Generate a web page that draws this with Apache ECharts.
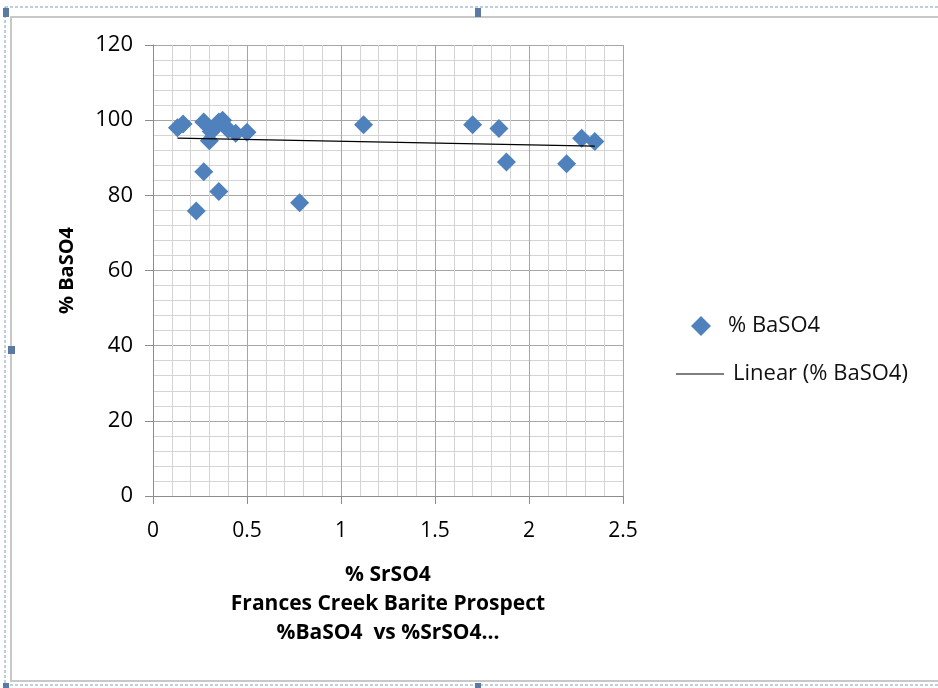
<!DOCTYPE html>
<html>
<head>
<meta charset="utf-8">
<script src="https://cdn.jsdelivr.net/npm/echarts@6/dist/echarts.min.js"></script>
<style>html,body{margin:0;padding:0;background:#fff;}#c{width:938px;height:688px;}</style>
</head>
<body>
<div id="c"></div>
<script>
// Data
const srso4 = [0.13, 0.16, 0.27, 0.30, 0.31, 0.35, 0.37, 0.40, 0.44, 0.50, 0.27, 0.35, 0.23, 0.78, 1.12, 1.70, 1.84, 1.88, 2.20, 2.28, 2.35];
const baso4 = [98.0, 99.0, 99.5, 94.5, 97.0, 99.5, 100.0, 97.5, 96.5, 96.8, 86.3, 81.0, 75.8, 78.0, 98.8, 98.8, 97.8, 88.9, 88.4, 95.2, 94.3];
// Excel linear trendline end points
const trendX = [0.13, 2.35];
const trendY = [95.2, 93.1];
const xTicks = [0, 0.5, 1, 1.5, 2, 2.5];
const yTicks = [0, 20, 40, 60, 80, 100, 120];
const seriesName = '% BaSO4';
const trendName = 'Linear (% BaSO4)';
const xTitle = '% SrSO4\nFrances Creek Barite Prospect\n%BaSO4  vs %SrSO4...';
const yTitle = '% BaSO4';

const points = srso4.map((x, i) => [x, baso4[i]]);
const trend = trendX.map((x, i) => [x, trendY[i]]);

const FONT = '"Open Sans", Lato, sans-serif';
const chart = echarts.init(document.getElementById('c'), null, {renderer: 'canvas'});
chart.setOption({
  animation: false,
  backgroundColor: '#fff',
  textStyle: {fontFamily: FONT},
  grid: {left: 153, right: 315, top: 45, bottom: 192, containLabel: false},
  legend: [
    {
      orient: 'vertical', left: 686, top: 310, itemWidth: 20, itemHeight: 20,
      textStyle: {fontFamily: FONT, fontSize: 22, color: '#111', padding: [0, 0, 0, 12]},
      data: [{name: seriesName, icon: 'diamond'}]
    },
    {
      orient: 'vertical', left: 671, top: 358, itemWidth: 48, itemHeight: 2,
      textStyle: {fontFamily: FONT, fontSize: 22, color: '#111', padding: [0, 0, 0, 4]},
      data: [{name: trendName, icon: 'rect', itemStyle: {color: '#7f7f7f'}}]
    }
  ],
  xAxis: {
    type: 'value', min: 0, max: 2.5, interval: 0.5,
    axisLine: {show: true, lineStyle: {color: '#8c8c8c', width: 1}},
    axisTick: {show: true, length: 8, lineStyle: {color: '#8c8c8c'}},
    axisLabel: {color: '#000', fontSize: 21, margin: 25, fontFamily: FONT, formatter: v => xTicks.includes(v) ? String(v) : ''},
    splitLine: {show: true, lineStyle: {color: '#a6a6a6', width: 1}},
    minorTick: {show: false, splitNumber: 5},
    minorSplitLine: {show: true, lineStyle: {color: '#d4d4d4', width: 1}},
    name: xTitle, nameLocation: 'middle', nameGap: 65,
    nameTextStyle: {color: '#000', fontWeight: 'bold', fontSize: 21, lineHeight: 29, fontFamily: FONT}
  },
  yAxis: {
    type: 'value', min: 0, max: 120, interval: 20,
    axisLine: {show: true, lineStyle: {color: '#8c8c8c', width: 1}},
    axisTick: {show: true, length: 8, lineStyle: {color: '#8c8c8c'}},
    axisLabel: {color: '#000', fontSize: 22, margin: 20, fontFamily: FONT, formatter: v => yTicks.includes(v) ? String(v) : ''},
    splitLine: {show: true, lineStyle: {color: '#a6a6a6', width: 1}},
    minorTick: {show: false, splitNumber: 5},
    minorSplitLine: {show: true, lineStyle: {color: '#d4d4d4', width: 1}},
    name: yTitle, nameLocation: 'middle', nameGap: 76, nameRotate: 90,
    nameTextStyle: {color: '#000', fontWeight: 'bold', fontSize: 20, fontFamily: FONT}
  },
  series: [
    {
      name: seriesName, type: 'scatter', data: points, symbol: 'diamond', symbolSize: 19,
      itemStyle: {color: '#4f81bd', opacity: 1}, z: 3
    },
    {
      name: trendName, type: 'line', data: trend, symbol: 'none', showSymbol: false,
      lineStyle: {color: '#000', width: 1.2}, itemStyle: {color: '#7f7f7f'}, z: 4
    }
  ],
  graphic: [
    {type: 'rect', shape: {x: 5, y: 7, width: 940, height: 678}, style: {fill: 'none', stroke: '#7f9cc0', lineWidth: 1, lineDash: [3, 2]}, silent: true, z: -10},
    {type: 'rect', shape: {x: 11, y: 17, width: 940, height: 664}, style: {fill: 'none', stroke: '#c8c8c8', lineWidth: 2}, silent: true, z: -9},
    {type: 'rect', shape: {x: 3, y: 8, width: 6, height: 9}, style: {fill: '#5a7aa3'}, silent: true},
    {type: 'rect', shape: {x: 475, y: 8, width: 6, height: 9}, style: {fill: '#5a7aa3'}, silent: true},
    {type: 'rect', shape: {x: 8, y: 346, width: 7, height: 8}, style: {fill: '#5a7aa3'}, silent: true},
    {type: 'rect', shape: {x: 475, y: 683, width: 6, height: 6}, style: {fill: '#5a7aa3'}, silent: true},
    {type: 'rect', shape: {x: 3, y: 683, width: 6, height: 6}, style: {fill: '#5a7aa3'}, silent: true}
  ]
});
</script>
</body>
</html>
